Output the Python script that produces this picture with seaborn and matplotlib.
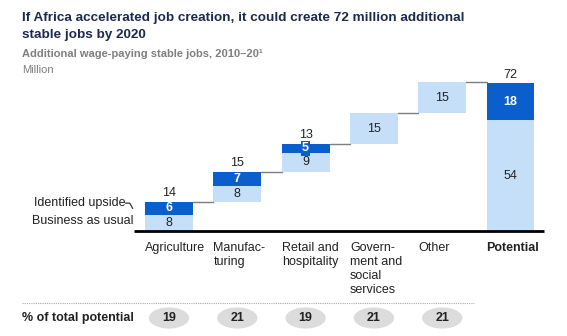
import matplotlib
matplotlib.use("Agg")
import matplotlib.pyplot as plt
from matplotlib.patches import Ellipse
import seaborn as sns
import pandas as pd
import numpy as np

# ---- data ----
categories = ["Agriculture", "Manufac-\nturing", "Retail and\nhospitality",
              "Govern-\nment and\nsocial\nservices", "Other", "Potential"]
bau = [8, 8, 9, 15, 15, 54]            # business as usual
upside = [6, 7, 4.5, 0, 0, 18]          # identified upside
bau_labels = ["8", "8", "9", "15", "15", "54"]
upside_labels = ["6", "7", "5", "", "", "18"]
total_labels = ["14", "15", "13", "", "", "72"]
pct_of_total = ["19", "21", "19", "21", "21"]

DARK = "#0A5FCC"
LIGHT = "#C6DFF8"
NAVY = "#1B2A4E"
GRAY = "#7F7F7F"

sns.set_theme(style="white")
plt.rcParams["font.family"] = ["Liberation Sans", "DejaVu Sans"]

W, H = 567, 336
fig = plt.figure(figsize=(W / 100, H / 100), dpi=100)

# axes placement in pixel terms
base_px = 231
ppu = 2.05
ymax = 75
ax_left, ax_right = 134, 544
ax = fig.add_axes([ax_left / W, 1 - base_px / H, (ax_right - ax_left) / W, ymax * ppu / H])

# floating bottoms
n = len(categories)
bottoms = []
cum = 0
for i in range(n - 1):
    bottoms.append(cum)
    cum += bau[i] + upside[i]
bottoms.append(0)

df = pd.DataFrame({
    "cat": categories,
    "top": [b + s + u for b, s, u in zip(bottoms, bau, upside)],
    "mid": [b + s for b, s in zip(bottoms, bau)],
    "base": bottoms,
})

bw = 0.70
sns.barplot(data=df, x="cat", y="top", order=categories, color=DARK, saturation=1,
            width=bw, ax=ax, zorder=2)
sns.barplot(data=df, x="cat", y="mid", order=categories, color=LIGHT, saturation=1,
            width=bw, ax=ax, zorder=3)
sns.barplot(data=df, x="cat", y="base", order=categories, color="white", saturation=1,
            width=bw, ax=ax, zorder=4)
for p in ax.patches:
    p.set_edgecolor("none")

ax.set_xlim(-0.512, 5.49)
ax.set_ylim(0, ymax)
ax.axis("off")

# baseline
ax.plot([-0.512, 5.49], [0, 0], color="black", lw=2, zorder=6, clip_on=False, solid_capstyle="butt")

# connectors
for i in range(n - 1):
    y = df["top"][i]
    ax.plot([i + bw / 2, i + 1 - bw / 2], [y, y], color=GRAY, lw=1, zorder=5)

fs = 9
for i in range(n):
    b, s, u = bottoms[i], bau[i], upside[i]
    ax.text(i, b + s / 2, bau_labels[i], ha="center", va="center", fontsize=fs,
            color="#222222", zorder=7)
    if upside_labels[i]:
        if u < 5:
            ax.text(i, b + s + u / 2, upside_labels[i], ha="center", va="center", fontsize=fs,
                    color="white", fontweight="bold", zorder=7,
                    bbox=dict(boxstyle="square,pad=0.1", fc=DARK, ec="none"))
        else:
            ax.text(i, b + s + u / 2, upside_labels[i], ha="center", va="center", fontsize=fs,
                    color="white", fontweight="bold", zorder=7)
    if total_labels[i]:
        ax.text(i, b + s + u + 1.4, total_labels[i], ha="center", va="bottom", fontsize=fs,
                color="#222222", zorder=7)

# category labels
for i, c in enumerate(categories):
    ax.text(i - bw / 2, -5.5, c, ha="left", va="top", fontsize=fs, color="#222222",
            linespacing=1.2, fontweight="bold" if c == "Potential" else "normal",
            clip_on=False)

# legend annotations
ax.text(-0.64, 13.6, "Identified upside", ha="right", va="center", fontsize=fs,
        color="#222222", clip_on=False)
ax.plot([-0.635, -0.575, -0.53], [13.6, 13.6, 11.0], color="#333333", lw=0.9,
        clip_on=False)
ax.text(-0.515, 4.9, "Business as usual", ha="right", va="center", fontsize=fs,
        color="#222222", clip_on=False)

# percent row
pct_y = (base_px - 318) / ppu
dot_y = (base_px - 303) / ppu
x22 = (22 - ax_left) / ((ax_right - ax_left) / (5.49 + 0.512)) - 0.512
ax.plot([x22, 4.46], [dot_y, dot_y], color="#AAAAAA", lw=0.8, ls=(0, (1, 1)),
        clip_on=False)
ax.text(x22, pct_y, "% of total potential", ha="left", va="center", fontsize=fs,
        fontweight="bold", color="#222222", clip_on=False)
for i, v in enumerate(pct_of_total):
    e = Ellipse((i, pct_y), width=0.59, height=10.3, fc="#DCDCDC", ec="none",
                clip_on=False, zorder=3)
    ax.add_patch(e)
    ax.text(i, pct_y, v, ha="center", va="center", fontsize=fs, fontweight="bold",
            color="#222222", clip_on=False, zorder=4)

# titles
fig.text(22 / W, 1 - 18 / H, "If Africa accelerated job creation, it could create 72 million additional",
         ha="left", va="center", fontsize=9.7, fontweight="bold", color=NAVY)
fig.text(22 / W, 1 - 35 / H, "stable jobs by 2020",
         ha="left", va="center", fontsize=9.7, fontweight="bold", color=NAVY)
fig.text(22 / W, 1 - 54 / H, "Additional wage-paying stable jobs, 2010–20\u00b9",
         ha="left", va="center", fontsize=8.0, fontweight="bold", color=GRAY)
fig.text(22 / W, 1 - 70 / H, "Million", ha="left", va="center", fontsize=8.0, color=GRAY)

fig.savefig("out.png", dpi=100)
